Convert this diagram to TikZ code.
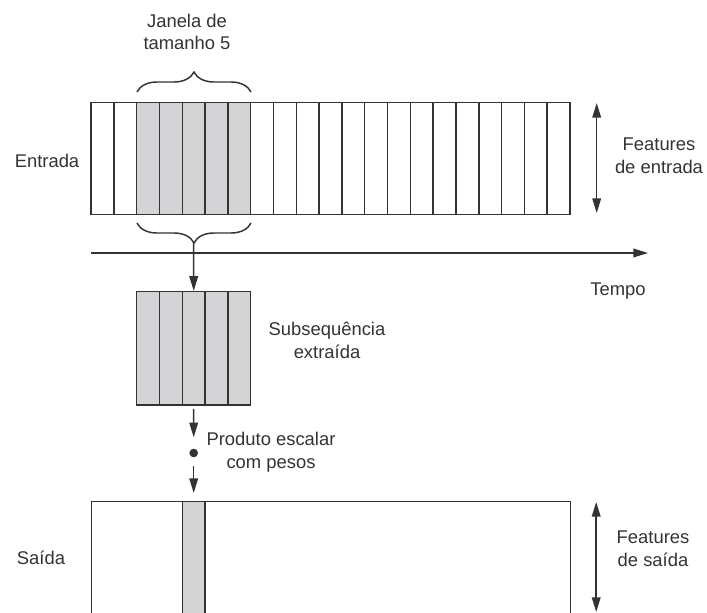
\documentclass[tikz,border=0pt]{standalone}
\usepackage{fontspec}
\setmainfont{Liberation Sans}
\usetikzlibrary{arrows.meta,decorations.pathreplacing}
\definecolor{ln}{HTML}{333333}
\definecolor{cellgray}{HTML}{D4D4D6}
\begin{document}
\begin{tikzpicture}[x=0.75pt,y=-0.75pt,line width=1.1pt,
  lbl/.style={font=\fontsize{13.8}{17.2}\selectfont,text=ln,align=center,inner sep=0pt,anchor=north},
  cell/.style={draw=ln,inner sep=0pt,minimum width=17.11pt,minimum height=84pt},
  graycell/.style={cell,fill=cellgray},
  arr/.style={draw=ln,-{Triangle[length=11pt,width=6.5pt]}},
  arrboth/.style={draw=ln,{Triangle[length=11pt,width=6.5pt]}-{Triangle[length=11pt,width=6.5pt]}},
  bracestyle/.style={draw=ln,decorate,decoration={brace,amplitude=15pt}}]
\path[use as bounding box,clip] (0,0) rectangle (707,613);
% input cells
\foreach \i in {0,...,20}{
  \ifnum\i<2 \def\st{cell}\else\ifnum\i>6 \def\st{cell}\else\def\st{graycell}\fi\fi
  \node[\st] (c\i) at ({91+22.81*(\i+0.5)},158.5) {};
}
% braces
\draw[bracestyle] (137,92) -- (251,92);
\draw[bracestyle] (251,223) -- (137,223);
\coordinate (bt) at (193.7,242);
% time axis
\coordinate (t0) at (91,253);
\coordinate (t1) at (648,253);
\draw[arr] (t0) -- (t1);
% subsequence
\foreach \j in {0,...,4}{
  \node[graycell,minimum height=85pt] (s\j) at ({136.7+22.81*(\j+0.5)},348.3) {};
}
\draw[arr] (bt) -- (s2.north);
% dot
\node[circle,fill=ln,inner sep=0pt,minimum size=6.5pt] (dot) at (193.7,453) {};
\draw[arr,shorten <=2.5pt,shorten >=8pt] (s2.south) -- (dot.north);
% output
\node[draw=ln,inner sep=0pt,anchor=north west,minimum width=359.25pt,minimum height=120pt] (out) at (91,501) {};
\node[graycell,anchor=north,minimum height=120pt] (oc) at (193.7,501) {};
\draw[arr,shorten <=6pt,shorten >=6pt] (dot.south) -- (oc.north);
% feature arrows
\coordinate (fi0) at (596.7,103);
\coordinate (fi1) at (596.7,213);
\draw[arrboth] (fi0) -- (fi1);
\coordinate (fo0) at (596.2,502);
\coordinate (fo1) at (596.2,612);
\draw[arrboth] (fo0) -- (fo1);
% labels
\node[lbl] (janela) at (187,13) {Janela de\\tamanho 5};
\node[lbl] (entrada) at (47,153.3) {Entrada};
\node[lbl] (tempo) at (618,281.7) {Tempo};
\node[lbl] (subseq) at (327,321.7) {Subsequência\\extraída};
\node[lbl] (prod) at (271,431.7) {Produto escalar\\com pesos};
\node[lbl] (fent) at (659,136.7) {Features\\de entrada};
\node[lbl] (fsai) at (653,530) {Features\\de saída};
\node[lbl] (saida) at (41,550.7) {Saída};
\end{tikzpicture}
\end{document}
